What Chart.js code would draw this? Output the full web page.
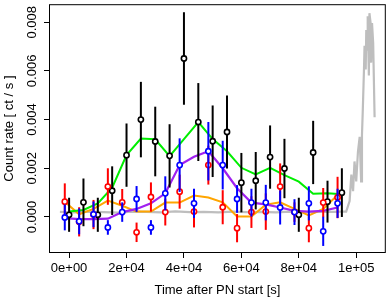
<!DOCTYPE html>
<html>
<head>
<meta charset="utf-8">
<script src="https://cdn.jsdelivr.net/npm/chart.js@4/dist/chart.umd.min.js"></script>
<style>
  html, body { margin: 0; padding: 0; background: #fff; }
  #wrap { width: 390px; height: 298px; }
</style>
</head>
<body>
<div id="wrap"><canvas id="lc"></canvas></div>
<script>
// bin centres (s) for black points + green curve
const binT = [0, 5000, 10000, 15000, 20000, 25000, 30000, 35000, 40000, 45000,
              50000, 55000, 60000, 65000, 70000, 75000, 80000, 85000, 90000, 95000];
// red / blue points and purple / orange curves sit slightly left
const subT = [-1500, 3500, 8500, 13500, 18500, 23500, 28500, 33500, 38500, 43500,
              48500, 53500, 58500, 63500, 68500, 73500, 78500, 83500, 88500, 93500];

const blackRate = [0.00009, 0.0006, 0.00009, 0.00108, 0.00254, 0.0040, 0.0031, 0.00251, 0.00651, 0.0039,
                   0.00311, 0.00349, 0.00141, 0.00149, 0.00246, 0.00199, 0.00009, 0.00265, 0.00063, 0.0010];
const blackErr  = [0.0007, 0.00098, 0.0007, 0.001, 0.0013, 0.00155, 0.00143, 0.0013, 0.0019, 0.0016,
                   0.00147, 0.0015, 0.00122, 0.00118, 0.0013, 0.00122, 0.0007, 0.0013, 0.00086, 0.001];

const redRate = [0.00063, -0.0002, 0.0001, 0.00125, 0.0006, -0.00063, 0.00082, 0.0002, 0.00104, 0.00022,
                 0.00213, 0.0004, -0.00046, 0.0002, 0.00022, 0.00125, 0.0002, -0.00046, 0.00059, 0.0008];
const redErr  = [0.00075, 0.0006, 0.0006, 0.00075, 0.00055, 0.0004, 0.0006, 0.00055, 0.0007, 0.00065,
                 0.0008, 0.0007, 0.00058, 0.00065, 0.00075, 0.00095, 0.0004, 0.00058, 0.0006, 0.00085];

const blueRate = [-0.00002, -0.00018, 0.00011, -0.00043, 0.0002, 0.00074, -0.00043, 0.00097, 0.00213, 0.00056,
                  0.0027, 0.00213, 0.00074, 0.00059, 0.00059, 0.00039, 0.0002, 0.00056, -0.00059, 0.00056];
const blueErr  = [0.00053, 0.00053, 0.00053, 0.0003, 0.0004, 0.00053, 0.0003, 0.0007, 0.0011, 0.0006,
                  0.0012, 0.001, 0.00057, 0.00057, 0.00073, 0.0007, 0.00053, 0.0007, 0.0006, 0.0006];

const greenRate  = [0.00022, 0.00029, 0.00056, 0.0012, 0.00254, 0.00322, 0.00319, 0.0025, 0.0032, 0.0039,
                    0.0032, 0.0027, 0.00202, 0.00175, 0.00202, 0.00172, 0.00145, 0.00095, 0.00097, 0.00093];
const purpleRate = [-0.00005, -0.00009, -0.00009, -0.00007, 0.0002, 0.00033, 0.00056, 0.00097, 0.00213, 0.00247,
                    0.0027, 0.002, 0.00118, 0.00059, 0.00052, 0.00039, 0.00025, 0.00022, 0.00025, 0.00039];
const orangeRate = [0.00063, 0.00011, 0.00033, 0.00067, 0.00046, 0.00022, 0.00022, 0.00059, 0.00059, 0.00088,
                    0.0008, 0.0006, 0.00002, 0.00002, 0.0005, 0.0006, 0.00033, 0.00006, 0.00033, 0.0009];

// full-band light curve (grey), flat then flaring at the end
const greyT    = [-3200, 2000, 7000, 12000, 17000, 22000, 27000, 32000, 37000, 42000, 47000, 52000, 57000,
                  62000, 67000, 72000, 77000, 82000, 87000, 92000, 94700, 96500, 97700, 98300, 98900, 99400,
                  100000, 100600, 101200, 101700, 102000, 102300, 102700, 102900, 103300, 103500, 103800,
                  104000, 104400, 104600, 105000, 105200, 105500, 105900, 106400];
const greyRate = [0.00021, 0.00019, 0.00022, 0.0002, 0.00018, 0.00022, 0.00021, 0.00019, 0.00023, 0.0002,
                  0.00021, 0.00019, 0.00022, 0.0002, 0.00021, 0.00019, 0.00022, 0.0002, 0.00021, 0.00021,
                  0.00022, 0.00022, 0.00065, 0.00174, 0.00106, 0.00228, 0.00146, 0.00268, 0.00329, 0.00146,
                  0.00337, 0.00443, 0.00606, 0.00703, 0.00606, 0.00768, 0.00687, 0.00825, 0.00581, 0.00837,
                  0.00797, 0.00634, 0.00797, 0.00715, 0.0041];

const xTicks = [0, 20000, 40000, 60000, 80000, 100000];
const yTicks = [0, 0.002, 0.004, 0.006, 0.008];

const FONT = '"Liberation Sans", Arial, sans-serif';

function pts(ts, vs) { return ts.map((t, i) => ({x: t, y: vs[i]})); }

// R-ish labels: 0e+00, 2e+04, 1e+05
function sciLabel(v) {
  if (v === 0) return '0e+00';
  const e = Math.floor(Math.log10(v));
  const m = Math.round(v / Math.pow(10, e));
  return m + 'e+' + String(e).padStart(2, '0');
}

// vertical error bars, drawn just under each dataset's own points
const errorBars = {
  id: 'errorBars',
  beforeDatasetDraw(chart, args) {
    const ds = chart.data.datasets[args.index];
    if (!ds.errs) return;
    const {ctx, scales: {x, y}} = chart;
    ctx.save();
    ctx.strokeStyle = ds.borderColor;
    ctx.lineWidth = 2;
    ds.data.forEach((p, i) => {
      const px = x.getPixelForValue(p.x);
      ctx.beginPath();
      ctx.moveTo(px, y.getPixelForValue(p.y - ds.errs[i]));
      ctx.lineTo(px, y.getPixelForValue(p.y + ds.errs[i]));
      ctx.stroke();
    });
    ctx.restore();
  }
};

// box round the plot + rotated y tick labels
const rFrame = {
  id: 'rFrame',
  afterDraw(chart) {
    const {ctx, chartArea: a, scales: {y}} = chart;
    ctx.save();
    ctx.strokeStyle = '#000';
    ctx.lineWidth = 1;
    ctx.strokeRect(a.left + 0.5, a.top + 0.5, a.right - a.left - 1, a.bottom - a.top - 1);
    ctx.fillStyle = '#000';
    ctx.font = '13px ' + FONT;
    ctx.textAlign = 'center';
    ctx.textBaseline = 'middle';
    yTicks.forEach(v => {
      ctx.save();
      ctx.translate(32, y.getPixelForValue(v));
      ctx.rotate(-Math.PI / 2);
      ctx.fillText(v.toFixed(3), 0, 0);
      ctx.restore();
    });
    ctx.restore();
  }
};

const pointDs = (label, ts, vs, errs, color) => ({
  label, data: pts(ts, vs), errs,
  borderColor: color, backgroundColor: '#fff',
  showLine: false, pointRadius: 2.6, pointBorderWidth: 1.6, pointHoverRadius: 2.6
});
const lineDs = (label, ts, vs, color, w) => ({
  label, data: pts(ts, vs),
  borderColor: color, borderWidth: w, pointRadius: 0, showLine: true, tension: 0
});

new Chart(document.getElementById('lc'), {
  type: 'scatter',
  data: {
    datasets: [
      pointDs('blue', subT, blueRate, blueErr, '#0000ff'),
      pointDs('red', subT, redRate, redErr, '#ff0000'),
      pointDs('black', binT, blackRate, blackErr, '#000000'),
      lineDs('green', binT, greenRate, '#00ee00', 2),
      lineDs('purple', subT, purpleRate, '#a020f0', 2.2),
      lineDs('orange', subT, orangeRate, '#ffa500', 2),
      lineDs('grey', greyT, greyRate, '#bebebe', 2.2)
    ]
  },
  options: {
    responsive: true,
    maintainAspectRatio: false,
    animation: false,
    events: [],
    layout: { padding: { top: 1, right: 2, left: 0, bottom: 0 } },
    plugins: { legend: { display: false }, tooltip: { enabled: false } },
    scales: {
      x: {
        type: 'linear', min: -7000, max: 110300,
        afterBuildTicks: s => { s.ticks = xTicks.map(v => ({value: v})); },
        afterFit: s => { s.height = 45; },
        ticks: { callback: v => sciLabel(v), color: '#000', font: { family: FONT, size: 13 }, padding: 3, maxRotation: 0 },
        grid: { drawOnChartArea: false, drawTicks: true, tickLength: 5, color: '#000' },
        border: { display: false },
        title: { display: true, text: 'Time after PN start [s]', color: '#000',
                 font: { family: FONT, size: 13 }, padding: { top: 0, bottom: 0 } }
      },
      y: {
        type: 'linear', min: -0.00148, max: 0.00874,
        afterBuildTicks: s => { s.ticks = yTicks.map(v => ({value: v})); },
        afterFit: s => { s.width = 49; },
        ticks: { display: false },
        grid: { drawOnChartArea: false, drawTicks: true, tickLength: 5, color: '#000' },
        border: { display: false },
        title: { display: true, text: 'Count rate [ ct / s ]', color: '#000',
                 font: { family: FONT, size: 13 }, padding: { top: 2, bottom: 0 } }
      }
    }
  },
  plugins: [errorBars, rFrame]
});
</script>
</body>
</html>
